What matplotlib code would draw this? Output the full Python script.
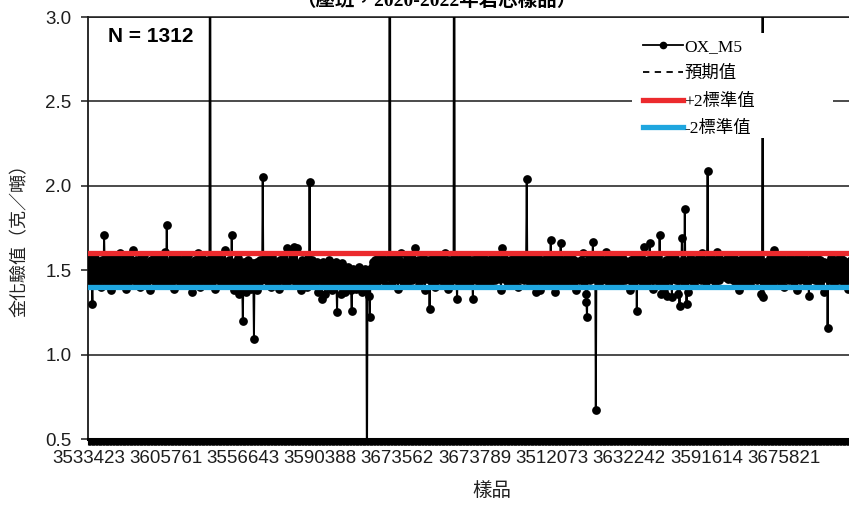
import numpy as np
import matplotlib
matplotlib.use('Agg')
import matplotlib.pyplot as plt
from matplotlib.lines import Line2D
from matplotlib.patches import Rectangle

# ---- data (gold assay of OX_M5 standard, g/t) ----
gold = [
    1.52, 1.47, 1.56, 1.44, 1.50, 1.58, 1.41, 1.30, 1.49, 1.53, 1.46, 1.57, 1.43, 1.51, 1.48, 1.55, 1.42, 1.54, 1.49, 1.45,
    1.50, 1.53, 1.40, 1.56, 1.48, 1.55, 1.46, 1.71, 1.52, 1.44, 1.49, 1.59, 1.47, 1.42, 1.54, 1.50, 1.57, 1.45, 1.51, 1.38,
    1.48, 1.55, 1.46, 1.52, 1.43, 1.58, 1.49, 1.45, 1.53, 1.41, 1.56, 1.47, 1.51, 1.44, 1.60, 1.48, 1.42, 1.54, 1.50, 1.46,
    1.53, 1.45, 1.57, 1.49, 1.39, 1.52, 1.47, 1.55, 1.43, 1.50, 1.58, 1.46, 1.51, 1.44, 1.54, 1.48, 1.62, 1.45, 1.52, 1.47,
    1.44, 1.51, 1.56, 1.48, 1.42, 1.55, 1.50, 1.46, 1.53, 1.40, 1.57, 1.49, 1.45, 1.52, 1.47, 1.59, 1.43, 1.51, 1.48, 1.54,
    1.49, 1.43, 1.55, 1.47, 1.52, 1.38, 1.50, 1.56, 1.45, 1.53, 1.48, 1.44, 1.57, 1.51, 1.46, 1.54, 1.41, 1.50, 1.55, 1.47,
    1.52, 1.46, 1.50, 1.58, 1.44, 1.53, 1.48, 1.42, 1.56, 1.49, 1.45, 1.61, 1.51, 1.47, 1.77, 1.54, 1.43, 1.50, 1.46, 1.55,
    1.48, 1.53, 1.41, 1.57, 1.49, 1.45, 1.52, 1.39, 1.55, 1.47, 1.50, 1.44, 1.58, 1.51, 1.46, 1.53, 1.43, 1.56, 1.48, 1.52,
    1.45, 1.50, 1.54, 1.47, 1.42, 1.57, 1.49, 1.53, 1.44, 1.51, 1.59, 1.46, 1.48, 1.55, 1.41, 1.52, 1.47, 1.50, 1.37, 1.54,
    1.51, 1.46, 1.56, 1.43, 1.49, 1.53, 1.48, 1.60, 1.45, 1.52, 1.47, 1.40, 1.55, 1.50, 1.44, 1.57, 1.49, 1.53, 1.46, 1.51,
    1.47, 1.54, 1.42, 1.50, 1.56, 1.45, 1.52, 1.48, 4.60, 1.53, 1.46, 1.58, 1.43, 1.50, 1.55, 1.47, 1.51, 1.39, 1.54, 1.49,
    1.53, 1.45, 1.50, 1.57, 1.44, 1.48, 1.52, 1.41, 1.56, 1.49, 1.46, 1.54, 1.50, 1.62, 1.47, 1.43, 1.55, 1.51, 1.45, 1.52,
    1.48, 1.56, 1.43, 1.51, 1.46, 1.71, 1.49, 1.44, 1.53, 1.38, 1.50, 1.55, 1.47, 1.52, 1.42, 1.57, 1.49, 1.36, 1.54, 1.46,
    1.51, 1.45, 1.53, 1.40, 1.20, 1.48, 1.55, 1.43, 1.50, 1.37, 1.52, 1.46, 1.56, 1.44, 1.49, 1.41, 1.53, 1.47, 1.39, 1.51,
    1.46, 1.54, 1.42, 1.09, 1.50, 1.45, 1.53, 1.48, 1.38, 1.55, 1.47, 1.51, 1.43, 1.56, 1.49, 1.44, 1.52, 1.47, 2.05, 1.50,
    1.53, 1.46, 1.49, 1.57, 1.44, 1.51, 1.48, 1.55, 1.42, 1.50, 1.54, 1.47, 1.40, 1.52, 1.58, 1.45, 1.49, 1.53, 1.46, 1.51,
    1.48, 1.55, 1.43, 1.50, 1.46, 1.53, 1.39, 1.56, 1.49, 1.44, 1.52, 1.47, 1.57, 1.45, 1.51, 1.48, 1.54, 1.42, 1.50, 1.46,
    1.63, 1.52, 1.47, 1.55, 1.44, 1.62, 1.49, 1.53, 1.45, 1.58, 1.50, 1.64, 1.46, 1.54, 1.41, 1.51, 1.63, 1.48, 1.43, 1.52,
    1.47, 1.54, 1.45, 1.50, 1.38, 1.56, 1.48, 1.52, 1.43, 1.49, 1.55, 1.46, 1.51, 1.40, 1.53, 1.47, 1.57, 1.44, 2.02, 1.50,
    1.45, 1.52, 1.48, 1.56, 1.43, 1.50, 1.47, 1.54, 1.41, 1.51, 1.46, 1.55, 1.49, 1.37, 1.53, 1.44, 1.50, 1.47, 1.52, 1.33,
    1.48, 1.55, 1.42, 1.50, 1.46, 1.36, 1.53, 1.49, 1.44, 1.51, 1.47, 1.56, 1.40, 1.52, 1.45, 1.49, 1.54, 1.38, 1.50, 1.46,
    1.52, 1.44, 1.49, 1.55, 1.41, 1.25, 1.50, 1.47, 1.53, 1.43, 1.48, 1.36, 1.51, 1.46, 1.54, 1.42, 1.49, 1.52, 1.45, 1.37,
    1.47, 1.50, 1.43, 1.48, 1.52, 1.40, 1.46, 1.49, 1.44, 1.38, 1.26, 1.47, 1.51, 1.42, 1.48, 1.45, 1.50, 1.39, 1.46, 1.43,
    1.49, 1.44, 1.47, 1.52, 1.41, 1.48, 1.45, 1.50, 1.37, 1.46, 1.49, 1.43, 1.51, 1.47, 1.40, 1.48, 0.21, 1.45, 1.50, 1.35,
    1.46, 1.22, 1.49, 1.44, 1.52, 1.47, 1.55, 1.42, 1.50, 1.48, 1.56, 1.45, 1.53, 1.49, 1.43, 1.57, 1.51, 1.46, 1.54, 1.48,
    1.52, 1.45, 1.58, 1.49, 1.44, 1.55, 1.50, 1.47, 1.53, 1.41, 1.56, 1.48, 1.51, 1.46, 1.54, 5.80, 1.57, 1.49, 1.43, 1.52,
    1.47, 1.55, 1.50, 1.44, 1.58, 1.48, 1.53, 1.46, 1.51, 1.39, 1.56, 1.49, 1.45, 1.52, 1.60, 1.47, 1.50, 1.43, 1.54, 1.48,
    1.51, 1.46, 1.55, 1.49, 1.42, 1.57, 1.50, 1.47, 1.53, 1.45, 1.59, 1.48, 1.52, 1.44, 1.56, 1.50, 1.46, 1.54, 1.63, 1.49,
    1.47, 1.53, 1.45, 1.50, 1.56, 1.41, 1.52, 1.48, 1.55, 1.44, 1.51, 1.58, 1.46, 1.49, 1.54, 1.38, 1.50, 1.47, 1.53, 1.45,
    1.52, 1.48, 1.56, 1.27, 1.50, 1.45, 1.54, 1.49, 1.43, 1.57, 1.51, 1.46, 1.53, 1.40, 1.55, 1.48, 1.50, 1.44, 1.58, 1.47,
    1.53, 1.46, 1.51, 1.57, 1.44, 1.49, 1.55, 1.42, 1.52, 1.48, 1.60, 1.45, 1.50, 1.54, 1.47, 1.39, 1.56, 1.49, 1.43, 1.52,
    1.48, 1.55, 1.46, 1.51, 1.57, 5.20, 1.53, 1.47, 1.50, 1.44, 1.33, 1.49, 1.56, 1.45, 1.52, 1.48, 1.54, 1.42, 1.50, 1.58,
    1.46, 1.53, 1.49, 1.55, 1.43, 1.51, 1.47, 1.57, 1.45, 1.52, 1.48, 1.41, 1.54, 1.50, 1.46, 1.56, 1.44, 1.33, 1.51, 1.49,
    1.55, 1.47, 1.52, 1.44, 1.58, 1.49, 1.53, 1.46, 1.50, 1.56, 1.42, 1.51, 1.48, 1.54, 1.45, 1.59, 1.50, 1.47, 1.53, 1.43,
    1.50, 1.56, 1.46, 1.52, 1.48, 1.55, 1.41, 1.53, 1.49, 1.45, 1.57, 1.51, 1.47, 1.54, 1.44, 1.50, 1.58, 1.48, 1.52, 1.46,
    1.53, 1.49, 1.56, 1.45, 1.51, 1.38, 1.54, 1.63, 1.48, 1.52, 1.46, 1.57, 1.50, 1.44, 1.55, 1.49, 1.53, 1.42, 1.51, 1.47,
    1.56, 1.48, 1.52, 1.45, 1.54, 1.50, 1.47, 1.58, 1.43, 1.51, 1.49, 1.55, 1.46, 1.53, 1.40, 1.57, 1.48, 1.52, 1.45, 1.50,
    1.54, 1.47, 1.51, 1.56, 1.44, 1.49, 1.53, 1.46, 1.58, 2.04, 1.50, 1.45, 1.55, 1.48, 1.52, 1.42, 1.57, 1.49, 1.46, 1.53,
    1.48, 1.55, 1.43, 1.51, 1.37, 1.54, 1.47, 1.50, 1.45, 1.57, 1.49, 1.38, 1.53, 1.46, 1.52, 1.41, 1.56, 1.48, 1.44, 1.51,
    1.53, 1.46, 1.50, 1.57, 1.44, 1.52, 1.48, 1.55, 1.42, 1.50, 1.68, 1.47, 1.54, 1.45, 1.51, 1.58, 1.48, 1.37, 1.53, 1.49,
    1.46, 1.55, 1.51, 1.43, 1.57, 1.49, 1.52, 1.66, 1.47, 1.54, 1.45, 1.50, 1.56, 1.48, 1.41, 1.53, 1.46, 1.59, 1.50, 1.44,
    1.52, 1.48, 1.55, 1.45, 1.51, 1.58, 1.47, 1.53, 1.42, 1.50, 1.56, 1.46, 1.54, 1.49, 1.38, 1.52, 1.47, 1.55, 1.44, 1.51,
    1.49, 1.56, 1.45, 1.53, 1.47, 1.60, 1.50, 1.43, 1.55, 1.48, 1.36, 1.31, 1.22, 1.52, 1.46, 1.57, 1.49, 1.44, 1.53, 1.50,
    1.47, 1.54, 1.67, 1.49, 1.52, 1.45, 1.58, 0.67, 1.51, 1.46, 1.55, 1.48, 1.53, 1.43, 1.57, 1.50, 1.47, 1.54, 1.44, 1.52,
    1.56, 1.49, 1.45, 1.53, 1.61, 1.48, 1.51, 1.46, 1.55, 1.42, 1.50, 1.57, 1.47, 1.53, 1.44, 1.49, 1.56, 1.51, 1.46, 1.52,
    1.48, 1.54, 1.43, 1.50, 1.57, 1.46, 1.52, 1.49, 1.55, 1.41, 1.51, 1.47, 1.58, 1.45, 1.53, 1.50, 1.56, 1.44, 1.49, 1.54,
    1.51, 1.47, 1.55, 1.45, 1.52, 1.38, 1.50, 1.56, 1.48, 1.43, 1.54, 1.49, 1.57, 1.46, 1.51, 1.44, 1.53, 1.26, 1.50, 1.47,
    1.55, 1.48, 1.52, 1.44, 1.57, 1.50, 1.46, 1.53, 1.41, 1.49, 1.64, 1.51, 1.47, 1.55, 1.43, 1.52, 1.48, 1.56, 1.45, 1.66,
    1.50, 1.54, 1.46, 1.52, 1.39, 1.57, 1.49, 1.44, 1.53, 1.48, 1.56, 1.45, 1.51, 1.47, 1.58, 1.43, 1.71, 1.50, 1.36, 1.54,
    1.48, 1.52, 1.45, 1.37, 1.55, 1.49, 1.43, 1.56, 1.51, 1.35, 1.53, 1.47, 1.50, 1.58, 1.44, 1.52, 1.46, 1.34, 1.54, 1.49,
    1.53, 1.46, 1.57, 1.50, 1.44, 1.55, 1.48, 1.36, 1.52, 1.47, 1.29, 1.54, 1.49, 1.45, 1.69, 1.51, 1.56, 1.43, 1.50, 1.86,
    1.48, 1.55, 1.30, 1.51, 1.46, 1.37, 1.53, 1.49, 1.57, 1.44, 1.50, 1.54, 1.47, 1.52, 1.42, 1.56, 1.48, 1.51, 1.45, 1.55,
    1.50, 1.46, 1.53, 1.57, 1.48, 1.52, 1.44, 1.55, 1.49, 1.60, 1.47, 1.51, 1.45, 1.54, 1.50, 1.56, 1.43, 1.52, 2.09, 1.48,
    1.54, 1.47, 1.51, 1.58, 1.45, 1.50, 1.53, 1.46, 1.56, 1.49, 1.43, 1.52, 1.48, 1.55, 1.61, 1.47, 1.51, 1.44, 1.57, 1.50,
    1.52, 1.48, 1.55, 1.50, 1.47, 1.53, 1.49, 1.56, 1.46, 1.51, 1.54, 1.48, 1.58, 1.45, 1.52, 1.49, 1.55, 1.47, 1.50, 1.53,
    1.46, 1.52, 1.44, 1.57, 1.49, 1.53, 1.41, 1.50, 1.55, 1.47, 1.51, 1.38, 1.54, 1.48, 1.56, 1.45, 1.52, 1.49, 1.43, 1.57,
    1.50, 1.46, 1.54, 1.48, 1.59, 1.44, 1.51, 1.55, 1.47, 1.52, 1.42, 1.56, 1.49, 1.45, 1.53, 1.50, 1.57, 1.46, 1.51, 1.48,
    1.54, 1.47, 1.50, 1.44, 1.56, 1.49, 1.52, 1.45, 1.58, 1.48, 1.36, 1.53, 3.95, 1.34, 1.51, 1.46, 1.55, 1.49, 1.43, 1.52,
    1.48, 1.55, 1.46, 1.51, 1.57, 1.44, 1.50, 1.53, 1.47, 1.56, 1.42, 1.52, 1.62, 1.49, 1.54, 1.45, 1.51, 1.58, 1.47, 1.50,
    1.53, 1.46, 1.55, 1.49, 1.43, 1.57, 1.50, 1.47, 1.52, 1.40, 1.54, 1.48, 1.56, 1.45, 1.51, 1.49, 1.53, 1.44, 1.58, 1.47,
    1.50, 1.55, 1.45, 1.52, 1.48, 1.56, 1.43, 1.51, 1.47, 1.54, 1.38, 1.50, 1.57, 1.46, 1.53, 1.49, 1.44, 1.55, 1.48, 1.52,
    1.46, 1.54, 1.50, 1.57, 1.44, 1.51, 1.48, 1.55, 1.42, 1.52, 1.47, 1.35, 1.53, 1.49, 1.56, 1.45, 1.50, 1.58, 1.46, 1.52,
    1.49, 1.55, 1.44, 1.51, 1.47, 1.57, 1.50, 1.46, 1.53, 1.41, 1.56, 1.48, 1.52, 1.45, 1.54, 1.50, 1.37, 1.55, 1.47, 1.51,
    1.53, 1.46, 1.50, 1.16, 1.48, 1.55, 1.44, 1.52, 1.49, 1.57, 1.45, 1.51, 1.47, 1.54, 1.42, 1.50, 1.56, 1.48, 1.53, 1.46,
    1.51, 1.55, 1.47, 1.52, 1.44, 1.58, 1.49, 1.53, 1.45, 1.50, 1.56, 1.43, 1.51, 1.48, 1.54, 1.46, 1.52, 1.39, 1.55, 1.49,
    1.47, 1.53, 1.50, 1.56, 1.44, 1.51, 1.48, 1.55, 1.46, 1.52, 1.49, 1.54,
]

tick_labels = ['3533423', '3605761', '3556643', '3590388', '3673562',
               '3673789', '3512073', '3632242', '3591614', '3675821']
label_step = 132          # one sample label every 132 samples

expected_value = 1.50     # 預期值
plus_2sd = 1.60           # +2標準值
minus_2sd = 1.40          # -2標準值

series_names = ['OX_M5', '預期值', '+2標準值', '-2標準值']
title_text = '（壓班，2020-2022年岩芯樣品）'
n_text = 'N = 1312'
y_label = '金化驗值（克／噸）'
x_label = '樣品'

# ---- figure ----
W, H = 849, 507
fig = plt.figure(figsize=(W / 100, H / 100), dpi=100)
ax = fig.add_axes([88 / W, 68 / H, 768 / W, 422 / H])

red = '#EC2A2D'
blue = '#1FA6DF'
ink = '#1a1a1a'

xs = np.arange(len(gold))
ax.plot(xs, gold, color='black', lw=1.4, marker='o', ms=6.3,
        markeredgewidth=0, zorder=3)
ax.axhline(expected_value, color='black', lw=1.3, dashes=(3, 3), zorder=2)
ax.axhline(plus_2sd, color=red, lw=3.8, zorder=4)
ax.axhline(minus_2sd, color=blue, lw=3.8, zorder=4)

ax.set_xlim(-0.5, len(gold) - 0.5)
ax.set_ylim(0.5, 3.0)

# y axis
yt = [0.5, 1.0, 1.5, 2.0, 2.5, 3.0]
ax.set_yticks(yt)
ax.set_yticklabels([f'{v:.1f}' for v in yt])
ax.yaxis.grid(True, color=ink, lw=1.1, zorder=1)
ax.set_axisbelow(True)
ax.tick_params(axis='y', which='major', length=5, width=1.1, color=ink,
               pad=7, labelsize=13.5, labelcolor='#1e1e1e')

# x axis: category labels + dense category ticks
ax.set_xticks(xs[::label_step])
ax.set_xticklabels(tick_labels)
ax.set_xticks(np.arange(-0.5, len(gold), 1.0), minor=True)
ax.tick_params(axis='x', which='major', length=0, pad=8,
               labelsize=13.5, labelcolor='#1e1e1e')
ax.tick_params(axis='x', which='minor', length=4, width=0.8, color='black')
for lab in ax.get_xticklabels() + ax.get_yticklabels():
    lab.set_fontfamily('Liberation Sans')

ax.spines['right'].set_visible(False)
ax.spines['top'].set_color(ink)
ax.spines['top'].set_linewidth(1.1)
ax.spines['left'].set_color(ink)
ax.spines['left'].set_linewidth(1.3)
ax.spines['bottom'].set_color('black')
ax.spines['bottom'].set_linewidth(2.2)

# white plate behind the legend (the chart's legend box)
ax.add_patch(Rectangle((632 / W, 1 - 138 / H), (833 - 632) / W, (138 - 33) / H,
                       transform=fig.transFigure, facecolor='white',
                       edgecolor='none', zorder=9, clip_on=False))

# legend
handles = [
    Line2D([], [], color='black', lw=1.3, marker='o', ms=4.5),
    Line2D([], [], color='black', lw=1.3, dashes=(3.5, 3)),
    Line2D([], [], color=red, lw=3.8),
    Line2D([], [], color=blue, lw=3.8),
]
leg = ax.legend(handles, series_names, loc='upper left',
                bbox_to_anchor=(634 / W, 1 - 30 / H),
                bbox_transform=fig.transFigure,
                frameon=False, numpoints=1,
                prop={'family': ['Liberation Serif', 'Noto Sans CJK TC'], 'size': 12.5},
                handlelength=2.3, handletextpad=0.1, labelspacing=0.65,
                borderpad=0.5, borderaxespad=0)
leg.set_zorder(10)

# texts
fig.text(151 / W, 1 - 37 / H, n_text, ha='center', va='center',
         fontsize=15, fontweight='bold', family='Liberation Sans', color='black')
fig.text(436 / W, 1 - 6 / H, title_text, ha='center', va='baseline',
         fontsize=14, fontweight='bold',
         family=['Liberation Serif', 'Noto Sans CJK TC'], color='black')
fig.text(20 / W, 1 - 236 / H, y_label, ha='center', va='center', rotation=90,
         fontsize=13, family=['Noto Sans CJK TC', 'DejaVu Sans'], color='#222222')
fig.text(492 / W, 1 - 490 / H, x_label, ha='center', va='center',
         fontsize=14, family=['Noto Sans CJK TC', 'DejaVu Sans'], color='#222222')

fig.savefig('out.png', dpi=100)
